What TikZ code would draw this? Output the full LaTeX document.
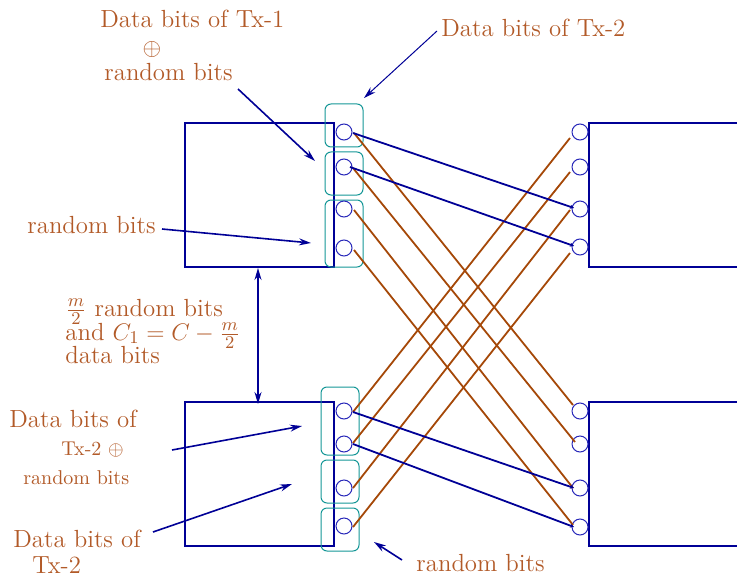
\documentclass[tikz,border=0pt]{standalone}
\usetikzlibrary{arrows.meta}
\definecolor{txtc}{RGB}{178,90,40}
\definecolor{orc}{RGB}{165,72,8}
\definecolor{navyc}{RGB}{0,0,150}
\definecolor{circc}{RGB}{40,40,185}
\definecolor{tealc}{RGB}{20,150,150}
\begin{document}
\begin{tikzpicture}[x=0.5pt,y=-0.5pt,
  lbl/.style={inner sep=0pt,anchor=base west,text=txtc,font=\fontsize{12.4}{14}\selectfont},
  slbl/.style={inner sep=0pt,anchor=base west,text=txtc,font=\fontsize{10}{12}\selectfont},
  port/.style={circle,draw=circc,line width=0.5pt,minimum size=8pt,inner sep=0pt},
  blk/.style={draw=navyc,line width=1pt,minimum width=74.5pt,minimum height=72pt,inner sep=0pt},
  grp/.style={draw=tealc,line width=0.5pt,rounded corners=3pt},
  bline/.style={draw=navyc,line width=0.9pt,-{Stealth[length=2pt,width=2pt]}},
  oline/.style={draw=orc,line width=0.9pt},
  pointer/.style={draw=navyc,line width=0.8pt,-{Stealth[length=6pt,width=3.5pt]}}]
\useasboundingbox (0,0) rectangle (737,577);
% blocks
\node[blk] (TL) at (259.5,195) {};
\node[blk] (BL) at (259.5,474) {};
\draw[navyc,line width=1pt] (737,123) -- (589,123) -- (589,267) -- (737,267);
\draw[navyc,line width=1pt] (737,402) -- (589,402) -- (589,546) -- (737,546);
% group boxes
\draw[grp] (325,104) rectangle (363,147);
\draw[grp] (325,152) rectangle (363,195);
\draw[grp] (325,200) rectangle (363,267);
\draw[grp] (321,387) rectangle (359,455);
\draw[grp] (321,460) rectangle (359,503);
\draw[grp] (321,508) rectangle (359,551);
% ports
\node[port] (a1) at (344,132) {};
\node[port] (a2) at (344,167) {};
\node[port] (a3) at (344,209) {};
\node[port] (a4) at (344,248) {};
\node[port] (b1) at (580,132) {};
\node[port] (b2) at (580,167) {};
\node[port] (b3) at (580,209) {};
\node[port] (b4) at (580,247) {};
\node[port] (c1) at (344,411) {};
\node[port] (c2) at (344,444) {};
\node[port] (c3) at (344,488) {};
\node[port] (c4) at (344,526) {};
\node[port] (d1) at (580,411) {};
\node[port] (d2) at (580,444) {};
\node[port] (d3) at (580,488) {};
\node[port] (d4) at (580,527) {};
% orange links
\draw[oline] ([shift={(10,1)}]a1.center) -- ([shift={(-7,-6)}]d1.center);
\draw[oline] ([shift={(9,1)}]a2.center) -- ([shift={(-5,-2)}]d2.center);
\draw[oline] ([shift={(10,1)}]a3.center) -- ([shift={(-7,0)}]d3.center);
\draw[oline] ([shift={(10,2)}]a4.center) -- ([shift={(-7,-2)}]d4.center);
\draw[oline] ([shift={(9,1)}]c1.center) -- ([shift={(-10,6)}]b1.center);
\draw[oline] ([shift={(9,-1)}]c2.center) -- ([shift={(-10,5)}]b2.center);
\draw[oline] ([shift={(9,0)}]c3.center) -- ([shift={(-10,1)}]b3.center);
\draw[oline] ([shift={(9,1)}]c4.center) -- ([shift={(-10,6)}]b4.center);
% blue links
\draw[bline] ([shift={(9,1)}]a1.center) -- ([shift={(-6,-1)}]b3.center);
\draw[bline] ([shift={(6,0)}]a2.center) -- ([shift={(-6,-1)}]b4.center);
\draw[bline] ([shift={(9,1)}]c1.center) -- ([shift={(-6,0)}]d3.center);
\draw[bline] ([shift={(9,0)}]c2.center) -- ([shift={(-6,0)}]d4.center);
% labels
\node[lbl] (t1) at (100,28) {Data bits of Tx-1};
\node[lbl,anchor=center] (t2) at (152,50) {$\oplus$};
\node[lbl] (t3) at (104,81) {random bits};
\node[lbl] (t4) at (441,37) {Data bits of Tx-2};
\node[lbl] (t5) at (27,233) {random bits};
\node[lbl] (t6) at (65,316) {$\frac{m}{2}$ random bits};
\node[lbl] (t7) at (65,340) {and $C_1=C-\frac{m}{2}$};
\node[lbl] (t8) at (65,363) {data bits};
\node[lbl] (t9) at (9,427) {Data bits of};
\node[slbl] (t10) at (61,455) {Tx-2 $\oplus$};
\node[slbl] (t11) at (23,484) {random bits};
\node[lbl] (t12) at (13,547) {Data bits of};
\node[lbl] (t13) at (32,573) {Tx-2};
\node[lbl] (t14) at (416,571) {random bits};
% pointer ends
\coordinate (p1s) at (238,89);   \coordinate (p1e) at (315,161);
\coordinate (p2s) at (437,31);   \coordinate (p2e) at (364,98);
\coordinate (p3s) at (162,229);  \coordinate (p3e) at (311,243);
\coordinate (p4s) at (172,450);  \coordinate (p4e) at (302,426);
\coordinate (p5s) at (153,532);  \coordinate (p5e) at (292,484);
\coordinate (p6s) at (402,560);  \coordinate (p6e) at (374,542);
\draw[pointer] (p1s) -- (p1e);
\draw[pointer,line width=0.5pt] (p2s) -- (p2e);
\draw[pointer] (p3s) -- (p3e);
\draw[pointer] (p4s) -- (p4e);
\draw[pointer] (p5s) -- (p5e);
\draw[pointer] (p6s) -- (p6e);
\draw[navyc,line width=0.8pt,{Stealth[length=6pt,width=3.5pt]}-{Stealth[length=6pt,width=3.5pt]}] ([xshift=-0.75pt]TL.south) -- ([xshift=-0.75pt,yshift=-1.5pt]BL.north);
\end{tikzpicture}
\end{document}
